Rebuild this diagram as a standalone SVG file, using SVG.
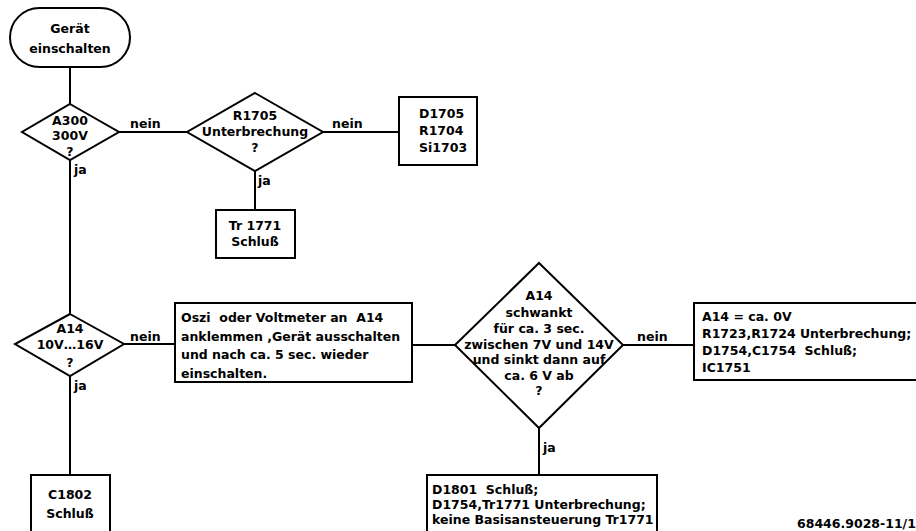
<svg xmlns="http://www.w3.org/2000/svg" width="916" height="531" viewBox="0 0 916 531">
<style>
.s{fill:#fff;stroke:#000;stroke-width:2}
.c{stroke:#000;stroke-width:2;fill:none}
text{font-family:"DejaVu Sans","Liberation Sans",sans-serif;font-weight:bold;font-size:12.5px;fill:#000}
.m{text-anchor:middle}
</style>
<rect width="916" height="531" fill="#fff"/>
<g id="connectors">
<line class="c" x1="70" y1="67" x2="70" y2="104"/>
<line class="c" x1="119" y1="132" x2="187" y2="132"/>
<line class="c" x1="323" y1="132" x2="399" y2="132"/>
<line class="c" x1="255" y1="171" x2="255" y2="210"/>
<line class="c" x1="70" y1="160" x2="70" y2="314"/>
<line class="c" x1="124" y1="344" x2="175" y2="344"/>
<line class="c" x1="412" y1="345" x2="455" y2="345"/>
<line class="c" x1="623" y1="345" x2="694" y2="345"/>
<line class="c" x1="539" y1="428" x2="539" y2="475"/>
<line class="c" x1="70" y1="376" x2="70" y2="475"/>
<text x="130" y="128">nein</text>
<text x="332" y="128">nein</text>
<text x="258" y="185">ja</text>
<text x="74" y="174">ja</text>
<text x="130" y="341">nein</text>
<text x="637" y="341">nein</text>
<text x="543" y="452">ja</text>
<text x="74" y="390">ja</text>
</g>
<g id="start">
<rect class="s" x="10" y="8" width="120" height="59" rx="29.5"/>
<text class="m" x="70" y="33">Gerät</text>
<text class="m" x="70" y="53">einschalten</text>
</g>
<g id="a300">
<polygon class="s" points="70,104 119,132 70,160 22,132"/>
<text class="m" x="70" y="125">A300</text>
<text class="m" x="70" y="140">300V</text>
<text class="m" x="70" y="156">?</text>
</g>
<g id="r1705">
<polygon class="s" points="255,93 323,132 255,171 187,132"/>
<text class="m" x="255" y="120">R1705</text>
<text class="m" x="255" y="136">Unterbrechung</text>
<text class="m" x="255" y="152">?</text>
</g>
<g id="d1705">
<rect class="s" x="399" y="97" width="78" height="68"/>
<text x="419" y="118">D1705</text>
<text x="419" y="135">R1704</text>
<text x="419" y="152">Si1703</text>
</g>
<g id="tr1771">
<rect class="s" x="216" y="210" width="79" height="48"/>
<text class="m" x="255" y="230">Tr 1771</text>
<text class="m" x="255" y="246">Schluß</text>
</g>
<g id="a14">
<polygon class="s" points="70,314 124,344 70,376 15,344"/>
<text class="m" x="70" y="333">A14</text>
<text class="m" x="70" y="349">10V…16V</text>
<text class="m" x="70" y="367">?</text>
</g>
<g id="oszi">
<rect class="s" x="175" y="303" width="237" height="79"/>
<text x="181" y="322" xml:space="preserve">Oszi  oder Voltmeter an  A14</text>
<text x="181" y="341">anklemmen ,Gerät ausschalten</text>
<text x="181" y="359">und nach ca. 5 sec. wieder</text>
<text x="181" y="378">einschalten.</text>
</g>
<g id="schwankt">
<polygon class="s" points="539,263 623,345 539,428 455,345"/>
<text class="m" x="539" y="300">A14</text>
<text class="m" x="539" y="317">schwankt</text>
<text class="m" x="539" y="333">für ca. 3 sec.</text>
<text class="m" x="539" y="349">zwischen 7V und 14V</text>
<text class="m" x="539" y="364">und sinkt dann auf</text>
<text class="m" x="539" y="380">ca. 6 V ab</text>
<text class="m" x="539" y="395">?</text>
</g>
<g id="a14-0v">
<rect class="s" x="694" y="303" width="230" height="77"/>
<text x="702" y="321">A14 = ca. 0V</text>
<text x="702" y="338">R1723,R1724 Unterbrechung;</text>
<text x="702" y="355" xml:space="preserve">D1754,C1754  Schluß;</text>
<text x="702" y="372">IC1751</text>
</g>
<g id="d1801">
<rect class="s" x="427" y="475" width="230" height="62"/>
<text x="432" y="494" xml:space="preserve">D1801  Schluß;</text>
<text x="432" y="509">D1754,Tr1771 Unterbrechung;</text>
<text x="432" y="524">keine Basisansteuerung Tr1771</text>
</g>
<g id="c1802">
<rect class="s" x="31" y="475" width="79" height="62"/>
<text class="m" x="70" y="499">C1802</text>
<text class="m" x="70" y="518">Schluß</text>
</g>
<text x="797" y="528">68446.9028-11/1</text>
</svg>
